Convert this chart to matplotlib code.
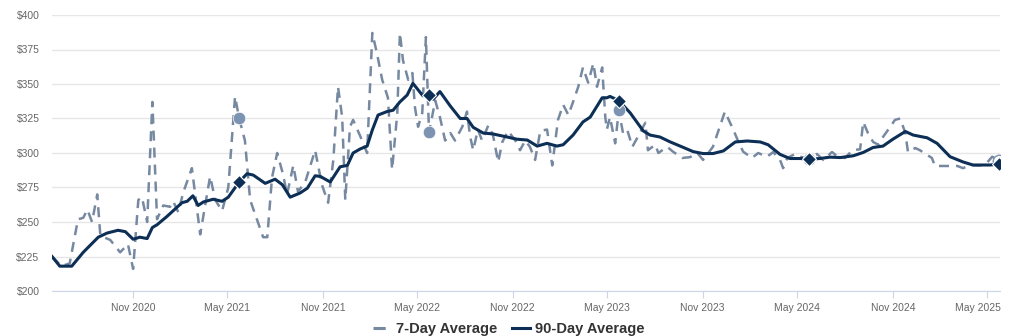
import matplotlib.pyplot as plt
import matplotlib.dates as mdates
import matplotlib.transforms as mtransforms
from matplotlib.lines import Line2D
import pandas as pd

plt.rcParams['font.family'] = ['Liberation Sans', 'DejaVu Sans']

# 7-day average (dashed)
week_dates = [
    "2020-05-29", "2020-06-16", "2020-07-02", "2020-07-18", "2020-07-28", "2020-08-05",
    "2020-08-14", "2020-08-24", "2020-08-30", "2020-09-18", "2020-10-07", "2020-10-22",
    "2020-11-01", "2020-11-11", "2020-11-18", "2020-11-28", "2020-12-08", "2020-12-17",
    "2020-12-29", "2021-01-11", "2021-01-17", "2021-01-27", "2021-02-05", "2021-02-22",
    "2021-03-10", "2021-03-29", "2021-04-08", "2021-04-21", "2021-05-03", "2021-05-16",
    "2021-05-24", "2021-06-04", "2021-06-14", "2021-07-09", "2021-07-17", "2021-07-26",
    "2021-08-05", "2021-08-16", "2021-08-24", "2021-09-05", "2021-09-14", "2021-09-28",
    "2021-10-17", "2021-10-30", "2021-11-11", "2021-11-21", "2021-11-30", "2021-12-08",
    "2021-12-14", "2021-12-23", "2021-12-29", "2022-01-12", "2022-01-25", "2022-02-04",
    "2022-02-13", "2022-02-23", "2022-03-06", "2022-03-14", "2022-03-24", "2022-03-29",
    "2022-04-04", "2022-04-14", "2022-04-22", "2022-04-27", "2022-05-03", "2022-05-11",
    "2022-05-18", "2022-05-24", "2022-06-05", "2022-06-14", "2022-06-24", "2022-07-04",
    "2022-07-13", "2022-07-27", "2022-08-05", "2022-08-11", "2022-08-17", "2022-08-26",
    "2022-09-03", "2022-09-15", "2022-09-24", "2022-10-04", "2022-10-12", "2022-10-23",
    "2022-11-06", "2022-11-15", "2022-11-25", "2022-12-04", "2022-12-14", "2022-12-24",
    "2023-01-06", "2023-01-16", "2023-01-22", "2023-01-27", "2023-02-06", "2023-02-16",
    "2023-02-25", "2023-03-07", "2023-03-16", "2023-03-26", "2023-04-05", "2023-04-12",
    "2023-04-22", "2023-04-28", "2023-05-01", "2023-05-07", "2023-05-17", "2023-05-24",
    "2023-06-01", "2023-06-09", "2023-06-19", "2023-06-30", "2023-07-14", "2023-07-19",
    "2023-08-02", "2023-08-08", "2023-08-25", "2023-09-05", "2023-09-23", "2023-10-08",
    "2023-10-22", "2023-11-02", "2023-11-21", "2023-12-14", "2023-12-30", "2024-01-08",
    "2024-01-18", "2024-02-04", "2024-02-16", "2024-03-04", "2024-03-16", "2024-03-29",
    "2024-04-04", "2024-04-12", "2024-04-27", "2024-05-07", "2024-05-24", "2024-06-08",
    "2024-06-20", "2024-07-07", "2024-07-19", "2024-08-01", "2024-08-15", "2024-08-30",
    "2024-09-05", "2024-09-14", "2024-09-24", "2024-10-04", "2024-10-13", "2024-10-27",
    "2024-11-05", "2024-11-15", "2024-11-25", "2024-11-30", "2024-12-14", "2024-12-23",
    "2025-01-06", "2025-01-15", "2025-01-21", "2025-02-13", "2025-03-05", "2025-03-16",
    "2025-03-30", "2025-04-14", "2025-04-27", "2025-05-11", "2025-05-24",
]
week_avg = [
    225, 218, 220, 252, 253, 259,
    250, 270, 240, 237, 228, 234,
    216, 266, 268, 250, 337, 252,
    262, 261, 265, 257, 271, 289,
    241, 283, 266, 258, 275, 341,
    325, 309, 266, 239, 239, 282,
    300, 285, 270, 291, 272, 279,
    302, 277, 264, 295, 348, 326,
    266, 319, 324, 312, 300, 387,
    372, 353, 340, 288, 329, 387,
    367, 353, 358, 333, 319, 329,
    384, 315, 338, 326, 309, 314.5,
    309, 319, 330, 312, 302, 317,
    309, 320, 313, 293.5, 308, 316,
    309, 302, 309, 304.5, 295, 316,
    317, 291, 309, 324, 335, 327.5,
    337, 348, 362, 351, 365, 348,
    362, 326, 317, 326, 307, 331,
    314.5, 317, 304.5, 312, 322, 302,
    306, 300, 304.5, 301, 296.4, 297,
    300, 295, 304.5, 330, 317, 309,
    301, 296.4, 300, 297.3, 300.7, 295,
    289, 296.4, 299.3, 297.3, 296, 299.3,
    295, 300.7, 297, 296.4, 302, 302.7,
    322.5, 314.5, 308, 306, 311.6, 319,
    324, 325, 314.5, 300.7, 303.6, 302,
    298.6, 296.4, 290.6, 290.6, 290.6, 289,
    291.3, 291, 291.3, 297.3, 294.5,
]

# 90-day average (solid)
season_dates = [
    "2020-05-29", "2020-06-13", "2020-07-06", "2020-07-28", "2020-08-26", "2020-09-12",
    "2020-10-03", "2020-10-17", "2020-11-01", "2020-11-14", "2020-11-28", "2020-12-08",
    "2020-12-17", "2021-01-05", "2021-02-03", "2021-02-13", "2021-02-24", "2021-03-06",
    "2021-03-16", "2021-04-04", "2021-04-21", "2021-05-03", "2021-05-24", "2021-06-08",
    "2021-06-20", "2021-07-13", "2021-08-01", "2021-08-15", "2021-08-30", "2021-09-18",
    "2021-10-02", "2021-10-17", "2021-10-27", "2021-11-15", "2021-12-04", "2021-12-18",
    "2021-12-29", "2022-01-12", "2022-01-25", "2022-02-04", "2022-02-15", "2022-03-04",
    "2022-03-16", "2022-03-29", "2022-04-12", "2022-04-23", "2022-05-11", "2022-05-24",
    "2022-06-01", "2022-06-14", "2022-07-04", "2022-07-23", "2022-08-05", "2022-08-17",
    "2022-09-05", "2022-09-24", "2022-10-21", "2022-11-09", "2022-11-29", "2022-12-18",
    "2023-01-06", "2023-01-25", "2023-02-06", "2023-02-25", "2023-03-16", "2023-03-30",
    "2023-04-22", "2023-05-01", "2023-05-07", "2023-05-24", "2023-06-15", "2023-07-10",
    "2023-07-23", "2023-08-11", "2023-08-31", "2023-09-19", "2023-10-14", "2023-11-02",
    "2023-11-21", "2023-12-11", "2024-01-03", "2024-01-26", "2024-02-20", "2024-03-06",
    "2024-03-29", "2024-04-17", "2024-05-07", "2024-05-24", "2024-06-14", "2024-07-03",
    "2024-07-23", "2024-08-17", "2024-09-05", "2024-09-24", "2024-10-13", "2024-11-01",
    "2024-11-25", "2024-12-10", "2025-01-06", "2025-01-25", "2025-02-19", "2025-03-16",
    "2025-04-04", "2025-05-07", "2025-05-24",
]
season_avg = [
    225, 218, 218, 228, 239, 242,
    244, 243, 237.5, 239, 238, 246,
    248, 254, 264, 265, 269, 262,
    264.5, 266.5, 265, 268, 279, 285,
    284, 278, 281, 277, 268, 271,
    274.5, 283.5, 283, 279, 290, 291,
    300, 303, 305, 316.7, 327.5, 330,
    331, 337, 342, 350.5, 342, 342,
    339, 344.5, 334, 325, 325, 318.6,
    314.5, 313.8, 311.6, 310, 309.4, 305,
    307, 305, 306, 313, 322.5, 326,
    340, 340, 341, 338, 329, 316,
    313, 311.6, 308, 305, 301, 299.6,
    299.6, 301.5, 308, 308.7, 308, 306,
    299, 296, 296, 295.6, 296, 297,
    296.7, 298, 300.4, 304, 305, 310,
    315.6, 313, 311, 307, 297.3, 293.5,
    291.3, 291.3, 292,
]

# same-day-of-year markers
mark_dates = ["2021-05-24", "2022-05-24", "2023-05-24", "2024-05-24", "2025-05-24"]
mark_week = [325, 315, 331, 296, 294.5]
mark_season = [279, 342, 338, 295.6, 292]

tick_dates = ["2020-11-01", "2021-05-01", "2021-11-01", "2022-05-01", "2022-11-01",
              "2023-05-01", "2023-11-01", "2024-05-01", "2024-11-01", "2025-05-01"]
y_ticks = [200, 225, 250, 275, 300, 325, 350, 375, 400]

navy = "#0d2f55"
slate = "#7789a1"
dot = "#7c94b2"

fig = plt.figure(figsize=(10.24, 3.36), dpi=100)
ax = fig.add_axes([52 / 1024, 1 - 291 / 336, 948 / 1024, 276 / 336])

wd = pd.to_datetime(week_dates)
sd = pd.to_datetime(season_dates)
md = pd.to_datetime(mark_dates)

ax.plot(wd, week_avg, color=slate, lw=1.8, dashes=(4, 2.8), zorder=2)
ax.plot(sd, season_avg, color=navy, lw=2.2, zorder=3)

ax.plot(md[:-1], mark_week[:-1], "o", color=dot, ms=9, mec="white", mew=0.5, zorder=4)
ax.plot(md[-1:], mark_week[-1:], "o", color="white", ms=9, mec=dot, mew=1, zorder=4)
ax.plot(md, mark_season, "D", color=navy, ms=6.8, mec="white", mew=0.8, zorder=5)

ax.set_xlim(pd.Timestamp("2020-05-29"), pd.Timestamp("2025-05-26"))
ax.set_ylim(200, 400)
ax.set_yticks(y_ticks)
ax.set_yticklabels([f"${v}" for v in y_ticks])
ax.set_xticks(pd.to_datetime(tick_dates))
ax.xaxis.set_major_formatter(mdates.DateFormatter("%b %Y"))

ax.grid(axis="y", color="#e6e6e6", lw=1)
ax.set_axisbelow(True)
for s in ["top", "right", "left"]:
    ax.spines[s].set_visible(False)
ax.spines["bottom"].set_color("#ccd6eb")
ax.tick_params(axis="y", length=0, pad=9, labelsize=7.5, labelcolor="#666666")
ax.tick_params(axis="x", length=5, color="#ccd6eb", pad=3.5, labelsize=7.5, labelcolor="#666666")

# last x label is pushed inside the plot edge
last = ax.get_xticklabels()[-1]
last.set_transform(last.get_transform() + mtransforms.ScaledTranslation(-9 / 100, 0, fig.dpi_scale_trans))

handles = [
    Line2D([], [], color=slate, lw=2.2, dashes=(4, 3)),
    Line2D([], [], color=navy, lw=2.2),
]
leg = fig.legend(handles, ["7-Day Average", "90-Day Average"], loc="center",
                 bbox_to_anchor=(0.497, 0.02), ncol=2, frameon=False,
                 prop={"size": 10.5, "weight": "bold"}, handlelength=1.2,
                 handletextpad=0.4, columnspacing=1.0)
for t in leg.get_texts():
    t.set_color("#333333")

fig.savefig("out.png", dpi=100)
